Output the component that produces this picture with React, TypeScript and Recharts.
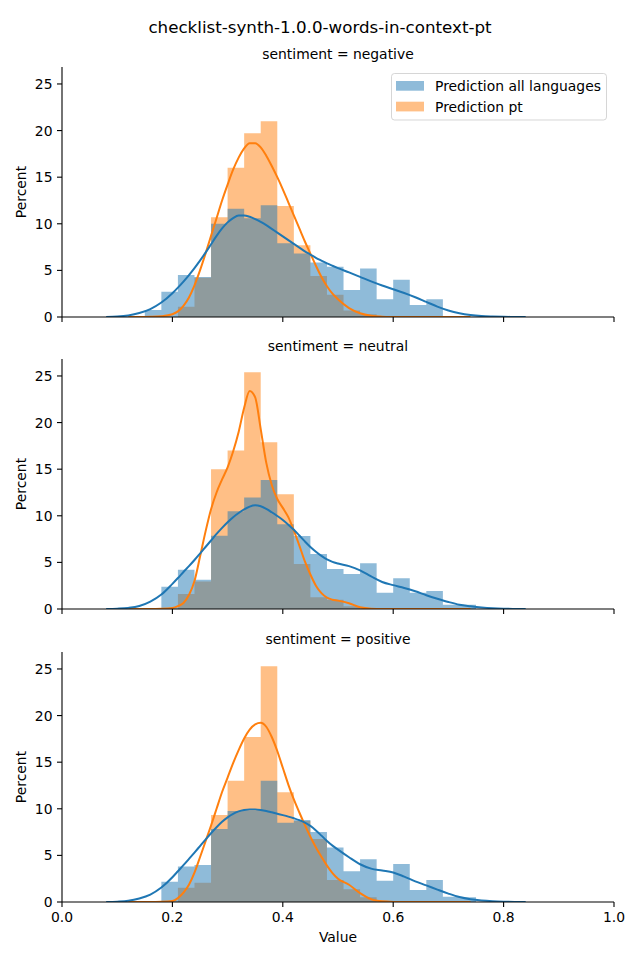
import React from 'react';
import { ComposedChart, Area, Line, XAxis, YAxis } from 'recharts';

const BLUE = '#1f77b4';
const ORANGE = '#ff7f0e';
const FONT = 'DejaVu Sans, Verdana, sans-serif';

const chartTitle = 'checklist-synth-1.0.0-words-in-context-pt';
const panelTitles = ['sentiment = negative', 'sentiment = neutral', 'sentiment = positive'];
const legendLabels = ['Prediction all languages', 'Prediction pt'];
const xTicks = [0, 0.2, 0.4, 0.6, 0.8, 1.0];
const yTicks = [0, 5, 10, 15, 20, 25];

// histogram bin edges (shared across facets)
const binEdges = [0.15, 0.18, 0.21, 0.24, 0.27, 0.30, 0.33, 0.36, 0.39, 0.42, 0.45, 0.48, 0.51, 0.54, 0.57, 0.60, 0.63, 0.66, 0.69, 0.72, 0.75];

// bar heights (percent)
const negAll = [0.75, 2.7, 4.5, 4.3, 10.0, 11.6, 10.6, 12.0, 7.9, 6.8, 5.85, 5.4, 2.9, 5.2, 1.9, 4.0, 1.3, 1.9, 0, 0];
const negPt = [0, 0, 1.1, 4.2, 10.7, 16.0, 19.7, 21.0, 11.9, 7.7, 4.4, 2.4, 0.7, 0.3, 0, 0, 0, 0, 0, 0];
const neuAll = [0, 2.4, 4.2, 3.15, 7.87, 10.5, 11.95, 13.84, 9.1, 7.83, 5.9, 4.3, 3.76, 4.9, 1.75, 3.3, 1.75, 1.93, 0.45, 0.45];
const neuPt = [0, 0, 1.6, 2.95, 15.0, 17.0, 25.4, 17.9, 12.3, 4.83, 1.25, 1.0, 0.3, 0, 0, 0, 0, 0, 0, 0];
const posAll = [0, 2.18, 3.8, 3.97, 7.83, 9.76, 9.76, 13.0, 8.5, 8.8, 7.5, 5.86, 3.3, 4.58, 2.29, 4.08, 1.29, 2.36, 0.57, 0.5];
const posPt = [0, 0, 1.54, 2.07, 9.33, 13.0, 17.7, 25.3, 11.77, 8.7, 6.76, 2.36, 1.36, 0.5, 0, 0, 0, 0, 0, 0];

// KDE sample positions
const kdeGridAll = [0.08, 0.10, 0.12, 0.14, 0.16, 0.18, 0.20, 0.21, 0.22, 0.23, 0.24, 0.25, 0.26, 0.27, 0.28, 0.29, 0.30, 0.31, 0.32, 0.33, 0.34, 0.35, 0.36, 0.37, 0.38, 0.39, 0.40, 0.41, 0.42, 0.43, 0.44, 0.45, 0.46, 0.47, 0.48, 0.49, 0.50, 0.52, 0.54, 0.56, 0.58, 0.60, 0.62, 0.64, 0.66, 0.68, 0.70, 0.72, 0.74, 0.76, 0.78, 0.80, 0.82, 0.84];
const kdeGridPt = [0.12, 0.14, 0.16, 0.18, 0.20, 0.21, 0.22, 0.23, 0.24, 0.25, 0.26, 0.27, 0.28, 0.29, 0.30, 0.31, 0.32, 0.33, 0.34, 0.35, 0.36, 0.37, 0.38, 0.39, 0.40, 0.41, 0.42, 0.43, 0.44, 0.45, 0.46, 0.47, 0.48, 0.49, 0.50, 0.52, 0.54, 0.56, 0.58, 0.60, 0.62, 0.64, 0.66, 0.68, 0.70, 0.72, 0.74];

const negKdeAll = [0.0, 0.05, 0.17, 0.42, 0.85, 1.55, 2.55, 3.15, 3.8, 4.5, 5.25, 6.05, 6.9, 7.8, 8.7, 9.5, 10.15, 10.6, 10.88, 10.9, 10.75, 10.5, 10.2, 9.85, 9.45, 9.05, 8.65, 8.25, 7.85, 7.45, 7.05, 6.7, 6.35, 6.05, 5.76, 5.5, 5.25, 4.78, 4.3, 3.82, 3.38, 2.98, 2.58, 2.12, 1.62, 1.12, 0.7, 0.4, 0.21, 0.1, 0.05, 0.02, 0.01, 0.0];
const negKdePt = [0, 0, 0.02, 0.08, 0.3, 0.6, 1.2, 2.1, 3.4, 5.0, 6.8, 8.7, 10.6, 12.5, 14.2, 15.8, 17.1, 18.1, 18.65, 18.65, 18.2, 17.3, 16.2, 15.0, 13.7, 12.3, 10.9, 9.5, 8.1, 6.8, 5.5, 4.3, 3.3, 2.5, 1.9, 0.95, 0.4, 0.13, 0.04, 0.01, 0, 0, 0, 0, 0, 0, 0];
const neuKdeAll = [0, 0.04, 0.12, 0.32, 0.79, 1.55, 2.7, 3.32, 3.97, 4.6, 5.26, 5.95, 6.65, 7.35, 8.05, 8.7, 9.3, 9.85, 10.3, 10.68, 10.98, 11.12, 11.02, 10.75, 10.38, 9.98, 9.55, 9.05, 8.5, 7.88, 7.25, 6.66, 6.15, 5.7, 5.33, 5.06, 4.88, 4.6, 4.15, 3.5, 2.9, 2.56, 2.26, 1.9, 1.48, 1.1, 0.75, 0.46, 0.3, 0.17, 0.08, 0.03, 0.01, 0];
const neuKdePt = [0, 0, 0, 0.02, 0.1, 0.3, 0.65, 1.5, 3.0, 5.6, 8.3, 10.7, 12.5, 13.9, 15.2, 16.9, 19.0, 21.6, 23.4, 22.7, 19.3, 15.7, 13.3, 11.8, 10.85, 9.85, 8.4, 6.8, 5.1, 3.7, 2.5, 1.7, 1.22, 1.0, 0.9, 0.62, 0.18, 0.03, 0, 0, 0, 0, 0, 0, 0, 0, 0];
const posKdeAll = [0, 0.04, 0.13, 0.38, 0.8, 1.55, 2.65, 3.3, 3.95, 4.62, 5.3, 6.0, 6.7, 7.38, 8.02, 8.6, 9.08, 9.45, 9.72, 9.87, 9.93, 9.92, 9.86, 9.76, 9.62, 9.47, 9.32, 9.16, 8.98, 8.78, 8.52, 8.16, 7.68, 7.12, 6.55, 6.05, 5.62, 4.8, 4.05, 3.58, 3.38, 3.17, 2.72, 2.22, 1.78, 1.33, 0.9, 0.53, 0.3, 0.17, 0.09, 0.04, 0.01, 0];
const posKdePt = [0, 0, 0, 0.02, 0.1, 0.42, 1.0, 1.85, 3.15, 4.8, 6.5, 8.2, 10.0, 11.8, 13.35, 14.9, 16.3, 17.55, 18.5, 19.05, 19.22, 18.8, 17.7, 16.2, 14.4, 12.6, 11.0, 9.6, 8.25, 7.0, 5.85, 4.85, 3.9, 3.1, 2.5, 1.85, 0.95, 0.3, 0.07, 0.01, 0, 0, 0, 0, 0, 0, 0];

const Y_MAX = 26.82;

function toSteps(heights: number[]) {
  return binEdges.map((e, i) => ({ x: e, y: i < heights.length ? heights[i] : heights[heights.length - 1] }));
}
function toLine(grid: number[], vals: number[]) {
  return grid.map((x, i) => ({ x, y: vals[i] }));
}

const tickStyle = { fill: '#000', fontSize: 13.9, fontFamily: FONT };

type PanelProps = {
  top: number;
  height: number;
  marginTop: number;
  marginBottom: number;
  xAxisHeight: number;
  showXLabels: boolean;
  all: number[];
  pt: number[];
  kdeAll: number[];
  kdePt: number[];
};

function Panel(p: PanelProps) {
  return (
    <div style={{ position: 'absolute', left: 0, top: p.top }}>
      <ComposedChart width={640} height={p.height} margin={{ top: p.marginTop, right: 26, bottom: p.marginBottom, left: 0 }}>
        <XAxis
          type="number"
          dataKey="x"
          domain={[0, 1]}
          ticks={xTicks}
          allowDataOverflow
          height={p.xAxisHeight}
          tickSize={5}
          tickMargin={5}
          interval={0}
          axisLine={{ stroke: '#000', strokeWidth: 1.1 }}
          tickLine={{ stroke: '#000', strokeWidth: 1.1 }}
          tick={tickStyle}
          tickFormatter={(v: number) => (p.showXLabels ? v.toFixed(1) : '')}
        />
        <YAxis
          type="number"
          domain={[0, Y_MAX]}
          ticks={yTicks}
          allowDataOverflow
          width={62}
          tickSize={5}
          tickMargin={4.5}
          interval={0}
          axisLine={{ stroke: '#000', strokeWidth: 1.1 }}
          tickLine={{ stroke: '#000', strokeWidth: 1.1 }}
          tick={tickStyle}
        />
        <Area data={toSteps(p.pt)} dataKey="y" type="stepAfter" stroke="none" fill={ORANGE} fillOpacity={0.5} isAnimationActive={false} activeDot={false} />
        <Area data={toSteps(p.all)} dataKey="y" type="stepAfter" stroke="none" fill={BLUE} fillOpacity={0.5} isAnimationActive={false} activeDot={false} />
        <Line data={toLine(kdeGridPt, p.kdePt)} dataKey="y" type="monotone" stroke={ORANGE} strokeWidth={2} dot={false} activeDot={false} isAnimationActive={false} />
        <Line data={toLine(kdeGridAll, p.kdeAll)} dataKey="y" type="monotone" stroke={BLUE} strokeWidth={2} dot={false} activeDot={false} isAnimationActive={false} />
      </ComposedChart>
    </div>
  );
}

export default function App() {
  const panelCenters = [192, 484, 777];
  const titleYs = [54, 346, 639];
  return (
    <div style={{ position: 'absolute', left: 0, top: 0, width: 640, height: 960, background: '#fff', fontFamily: FONT }}>
      <Panel top={0} height={330} marginTop={67} marginBottom={0} xAxisHeight={13} showXLabels={false} all={negAll} pt={negPt} kdeAll={negKdeAll} kdePt={negKdePt} />
      <Panel top={330} height={292} marginTop={29} marginBottom={0} xAxisHeight={13} showXLabels={false} all={neuAll} pt={neuPt} kdeAll={neuKdeAll} kdePt={neuKdePt} />
      <Panel top={622} height={338} marginTop={30} marginBottom={28} xAxisHeight={30} showXLabels={true} all={posAll} pt={posPt} kdeAll={posKdeAll} kdePt={posKdePt} />
      <svg width={640} height={960} style={{ position: 'absolute', left: 0, top: 0, pointerEvents: 'none' }}>
        <text x={320} y={27} textAnchor="middle" dominantBaseline="central" fontSize={16.7} fontFamily={FONT} fill="#000">{chartTitle}</text>
        {panelTitles.map((t, i) => (
          <text key={t} x={338} y={titleYs[i]} textAnchor="middle" dominantBaseline="central" fontSize={13.9} fontFamily={FONT} fill="#000">{t}</text>
        ))}
        {panelCenters.map((c, i) => (
          <text key={i} x={21} y={c} transform={`rotate(-90 21 ${c})`} textAnchor="middle" dominantBaseline="central" fontSize={13.9} fontFamily={FONT} fill="#000">Percent</text>
        ))}
        <text x={338} y={937} textAnchor="middle" dominantBaseline="central" fontSize={13.9} fontFamily={FONT} fill="#000">Value</text>
        <g>
          <rect x={391.5} y={73.5} width={215} height={46.5} rx={3} ry={3} fill="#fff" fillOpacity={0.8} stroke="#ccc" strokeOpacity={0.8} strokeWidth={1} />
          <rect x={396} y={81} width={28} height={9.7} fill={BLUE} fillOpacity={0.5} />
          <rect x={396} y={101.7} width={28} height={9.7} fill={ORANGE} fillOpacity={0.5} />
          <text x={435} y={86} dominantBaseline="central" fontSize={13.9} fontFamily={FONT} fill="#000">{legendLabels[0]}</text>
          <text x={435} y={106.7} dominantBaseline="central" fontSize={13.9} fontFamily={FONT} fill="#000">{legendLabels[1]}</text>
        </g>
      </svg>
    </div>
  );
}
